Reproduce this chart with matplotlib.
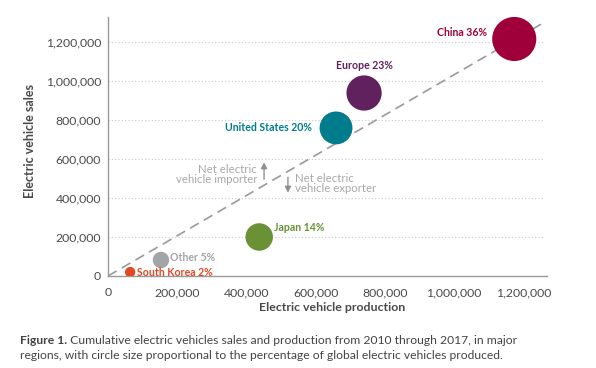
import matplotlib
matplotlib.use("Agg")
import matplotlib.pyplot as plt

plt.rcParams['font.family'] = ['Lato', 'DejaVu Sans']

regions = ["China", "Europe", "United States", "Japan", "Other", "South Korea"]
production = [1174000, 740000, 659000, 437000, 153000, 64000]
sales = [1215000, 938000, 759000, 200000, 82000, 20000]
share_pct = [36, 23, 20, 14, 5, 2]
colors = ["#A0003A", "#60215E", "#007C8C", "#6A9136", "#A3A4A8", "#E04826"]

xticks = [0, 200000, 400000, 600000, 800000, 1000000, 1200000]
yticks = [0, 200000, 400000, 600000, 800000, 1000000, 1200000]
parity_x = [0, 1265000]
parity_y = [0, 1305000]

fig = plt.figure(figsize=(5.96, 3.68), dpi=100)
ax = fig.add_axes([0.1812, 0.25, 0.7368, 0.704])
ax.set_xlim(0, 1269000)
ax.set_ylim(0, 1328000)

for yv in yticks[1:]:
    ax.axhline(yv, xmax=0.993, color="#C8C8C8", lw=0.8, ls=(0, (1, 2)), zorder=0)

ax.plot(parity_x, parity_y, color="#9A9A9A", lw=1.2, ls=(0, (6, 3.5)), zorder=1)

sizes = [28 * p for p in share_pct]
ax.scatter(production, sales, s=sizes, c=colors, zorder=3, linewidths=0)

lab_kw = dict(fontsize=7.6, fontweight="bold")
offsets = [(-19.5, 5, "right"), (0, 19.5, "center"), (-17.3, 0, "right"),
           (10.8, 6.5, "left"), (6.5, 2, "left"), (5, 0, "left")]
for name, px, sy, pct, col, (dx, dy, ha) in zip(regions, production, sales, share_pct, colors, offsets):
    ax.annotate(f"{name} {pct}%", (px, sy), xytext=(dx, dy), textcoords="offset points",
                ha=ha, va="center", color=col, **lab_kw)

gray = "#A8A8A8"
ax.text(431000, 520000, "Net electric\nvehicle importer", ha="right", va="center",
        color=gray, fontsize=8.2, linespacing=0.9)
ax.annotate("", xy=(451000, 597000), xytext=(451000, 482000),
            arrowprops=dict(arrowstyle="-|>,head_width=0.18,head_length=0.35", color="#8F8F8F", lw=1.0))
ax.text(541000, 474000, "Net electric\nvehicle exporter", ha="left", va="center",
        color=gray, fontsize=8.2, linespacing=0.9)
ax.annotate("", xy=(520000, 413000), xytext=(520000, 520000),
            arrowprops=dict(arrowstyle="-|>,head_width=0.18,head_length=0.35", color="#8F8F8F", lw=1.0))

ax.set_xticks(xticks)
ax.set_yticks(yticks)
ax.set_xticklabels([f"{v:,}" for v in xticks])
ax.set_yticklabels([f"{v:,}" for v in yticks])
ax.tick_params(axis="both", length=0, labelsize=8.8, colors="#4A4A4A")
ax.tick_params(axis="x", pad=8)
ax.tick_params(axis="y", pad=5)
for sp in ["top", "right"]:
    ax.spines[sp].set_visible(False)
for sp in ["left", "bottom"]:
    ax.spines[sp].set_color("#9A9A9A")
    ax.spines[sp].set_linewidth(1.0)

ax.set_xlabel("Electric vehicle production", fontsize=8.9, fontweight="bold", color="#4A4A4A")
ax.set_ylabel("Electric vehicle sales", fontsize=9, fontweight="bold", color="#4A4A4A")
ax.xaxis.set_label_coords(0.51, -0.100)
ax.yaxis.set_label_coords(-0.163, 0.521)

cap_kw = dict(fontsize=8.75, color="#444444", va="baseline")
bold = fig.text(0.034, 1 - 344 / 368, "Figure 1.", fontweight="bold", **cap_kw)
ax.annotate(" Cumulative electric vehicles sales and production from 2010 through 2017, in major",
            xy=(1, 0), xycoords=bold, va="bottom", ha="left", fontsize=8.75, color="#444444",
            annotation_clip=False)
fig.text(0.034, 1 - 359 / 368,
         "regions, with circle size proportional to the percentage of global electric vehicles produced.",
         **cap_kw)
fig.savefig("out.png", dpi=100)
